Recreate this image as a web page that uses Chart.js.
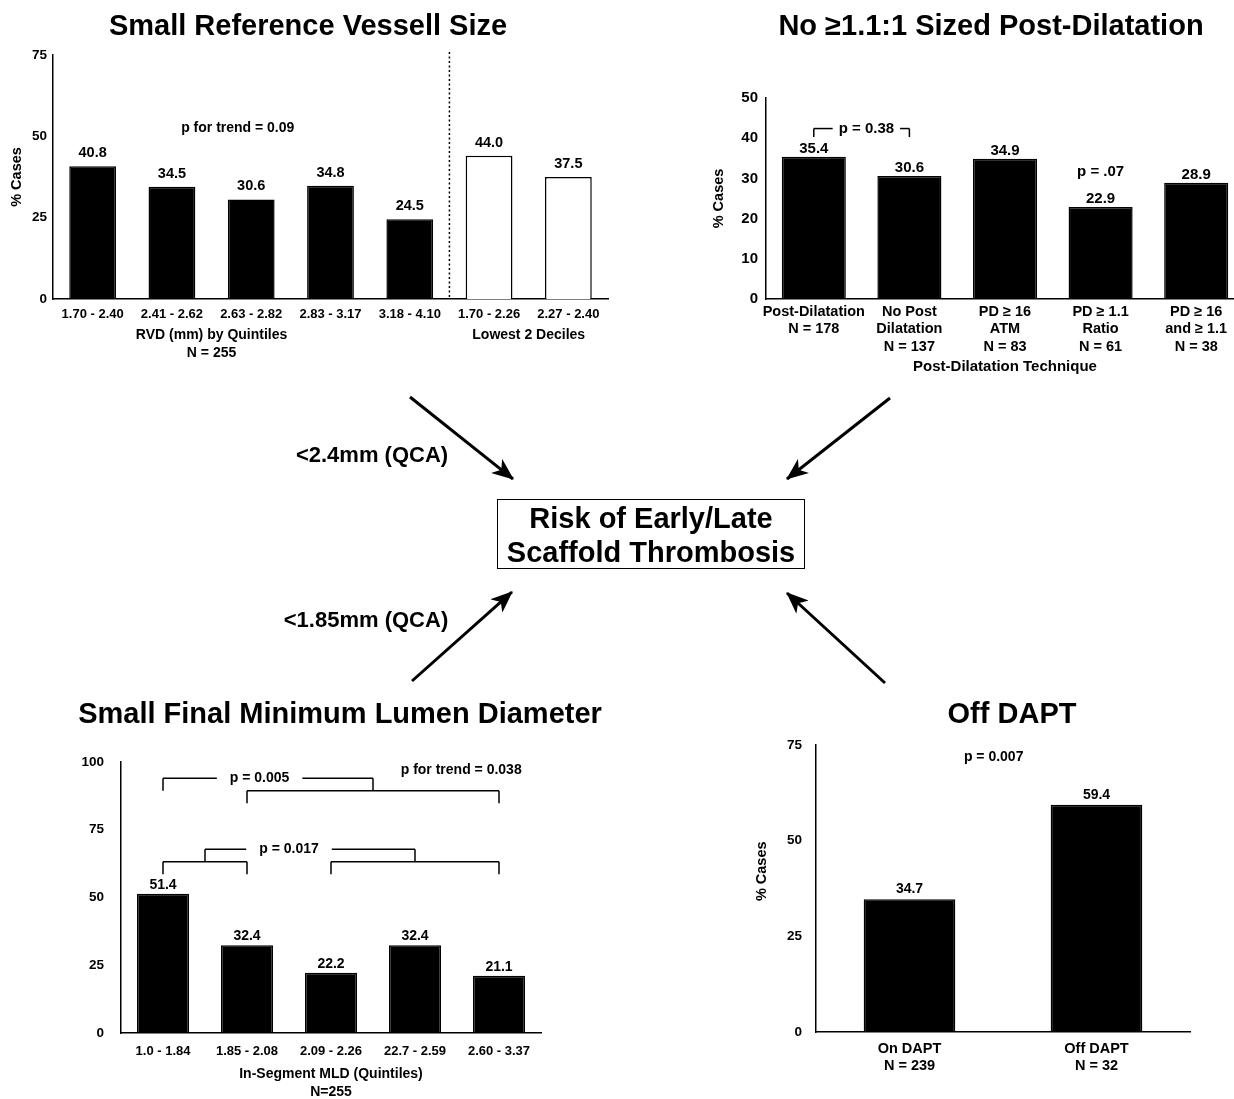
<!DOCTYPE html>
<html>
<head>
<meta charset="utf-8">
<script src="https://cdn.jsdelivr.net/npm/chart.js@4.4.1/dist/chart.umd.min.js"></script>
<style>
html, body { margin: 0; padding: 0; background: #fff; overflow: hidden; }
#page { position: relative; width: 1234px; height: 1099px; overflow: hidden; background: #fff;
        font-family: "Liberation Sans", Arial, sans-serif; font-weight: bold; color: #000; }
canvas { position: absolute; left: 0; top: 0; }
.t { position: absolute; white-space: nowrap; transform: translate(-50%, -50%); line-height: 1; }
.title { font-size: 29px; }
.arrowlbl { font-size: 22px; }
#box { position: absolute; left: 497px; top: 499px; width: 308px; height: 70px; box-sizing: border-box; border: 1.5px solid #000; }
</style>
</head>
<body>
<div id="page">
  <canvas id="c1" width="1234" height="1099"></canvas>
  <canvas id="c2" width="1260" height="1099"></canvas>
  <canvas id="c3" width="1234" height="1099"></canvas>
  <canvas id="c4" width="1234" height="1099"></canvas>

  <div class="t title" style="left:308px;top:25px">Small Reference Vessell Size</div>
  <div class="t title" style="left:991px;top:25px">No ≥1.1:1 Sized Post-Dilatation</div>
  <div class="t title" style="left:340px;top:713px">Small Final Minimum Lumen Diameter</div>
  <div class="t title" style="left:1012px;top:713px">Off DAPT</div>

  <svg width="1234" height="1099" style="position:absolute;left:0;top:0">
    <defs>
      <marker id="ah" viewBox="0 0 22 18" refX="21" refY="9" markerWidth="22" markerHeight="18"
              markerUnits="userSpaceOnUse" orient="auto">
        <path d="M0,0 L22,9 L0,18 L6,9 z" fill="#000"/>
      </marker>
    </defs>
    <line x1="410" y1="397" x2="513" y2="479" stroke="#000" stroke-width="3" marker-end="url(#ah)"/>
    <line x1="890" y1="398" x2="787" y2="479" stroke="#000" stroke-width="3" marker-end="url(#ah)"/>
    <line x1="412" y1="681" x2="512" y2="592" stroke="#000" stroke-width="3" marker-end="url(#ah)"/>
    <line x1="885" y1="683" x2="787" y2="593" stroke="#000" stroke-width="3" marker-end="url(#ah)"/>
  </svg>

  <div class="t arrowlbl" style="left:372px;top:455px">&lt;2.4mm (QCA)</div>
  <div class="t arrowlbl" style="left:366px;top:620px">&lt;1.85mm (QCA)</div>

  <div id="box"></div>
  <div class="t title" style="left:651px;top:518px">Risk of Early/Late</div>
  <div class="t title" style="left:651px;top:552px">Scaffold Thrombosis</div>
</div>

<script>
// panel 1: RVD quintiles + lowest deciles
const rvdLabels = ['1.70 - 2.40', '2.41 - 2.62', '2.63 - 2.82', '2.83 - 3.17', '3.18 - 4.10', '1.70 - 2.26', '2.27 - 2.40'];
const rvdValues = [40.8, 34.5, 30.6, 34.8, 24.5, 44.0, 37.5];
const rvdTicks = [0, 25, 50, 75];

// panel 2: post-dilatation technique
const pdLabels = [
    ['Post-Dilatation', 'N = 178'],
    ['No Post', 'Dilatation', 'N = 137'],
    ['PD ≥ 16', 'ATM', 'N = 83'],
    ['PD ≥ 1.1', 'Ratio', 'N = 61'],
    ['PD ≥ 16', 'and ≥ 1.1', 'N = 38']
];
const pdValues = [35.4, 30.6, 34.9, 22.9, 28.9];
const pdTicks = [0, 10, 20, 30, 40, 50];

// panel 3: in-segment MLD quintiles
const mldLabels = ['1.0 - 1.84', '1.85 - 2.08', '2.09 - 2.26', '22.7 - 2.59', '2.60 - 3.37'];
const mldValues = [51.4, 32.4, 22.2, 32.4, 21.1];
const mldTicks = [0, 25, 50, 75, 100];

// panel 4: DAPT
const daptLabels = [['On DAPT', 'N = 239'], ['Off DAPT', 'N = 32']];
const daptValues = [34.7, 59.4];
const daptTicks = [0, 25, 50, 75];

Chart.defaults.font.family = '"Liberation Sans", Arial, sans-serif';
Chart.defaults.font.weight = 'bold';
Chart.defaults.color = '#000';

const FONT = s => 'bold ' + s + 'px "Liberation Sans", Arial, sans-serif';
const X_H = 60;

function line(ctx, x1, y1, x2, y2) {
    ctx.beginPath();
    ctx.moveTo(x1, y1);
    ctx.lineTo(x2, y2);
    ctx.stroke();
}

// horizontal bracket bar, broken around a label
function hbar(ctx, x1, x2, y, text, tx, pad) {
    if (!text) { line(ctx, x1, y, x2, y); return; }
    const w = ctx.measureText(text).width / 2 + pad;
    line(ctx, x1, y, tx - w, y);
    line(ctx, tx + w, y, x2, y);
    ctx.fillText(text, tx, y);
}

function makeChart(id, cfg) {
    const canvas = document.getElementById(id);
    const a = cfg.area;
    const yW = cfg.yW || 45;
    return new Chart(canvas, {
        type: 'bar',
        data: {
            labels: cfg.labels,
            datasets: [{
                data: cfg.values,
                backgroundColor: cfg.fill || '#000',
                borderColor: '#000',
                borderWidth: 1.5,
                barPercentage: cfg.barPct,
                categoryPercentage: 1
            }]
        },
        options: {
            responsive: false,
            animation: false,
            events: [],
            layout: {
                padding: {
                    left: a.l - yW,
                    right: canvas.width - a.r,
                    top: a.t,
                    bottom: canvas.height - a.b - X_H
                }
            },
            plugins: { legend: { display: false }, tooltip: { enabled: false } },
            scales: {
                x: {
                    grid: { display: false },
                    border: { color: '#000', width: 1.5 },
                    ticks: { color: '#000', font: { size: cfg.xFont, weight: 'bold' }, padding: cfg.xPad, maxRotation: 0, autoSkip: false },
                    afterFit: s => { s.height = X_H; }
                },
                y: {
                    min: 0,
                    max: cfg.ticks[cfg.ticks.length - 1],
                    grid: { display: false, drawTicks: false },
                    border: { color: '#000', width: 1.5 },
                    afterBuildTicks: s => { s.ticks = cfg.ticks.map(v => ({ value: v })); },
                    ticks: { color: '#000', font: { size: cfg.yFont, weight: 'bold' }, padding: cfg.yPad },
                    afterFit: s => { s.width = yW; }
                }
            }
        },
        plugins: [{
            id: 'notes',
            afterDatasetsDraw(chart) {
                const ctx = chart.ctx;
                const X = v => chart.scales.x.getPixelForValue(v);
                const Y = v => chart.scales.y.getPixelForValue(v);
                ctx.save();
                ctx.fillStyle = '#000';
                ctx.strokeStyle = '#000';
                ctx.lineWidth = 1.5;
                ctx.textAlign = 'center';
                ctx.textBaseline = 'middle';
                ctx.font = FONT(cfg.valFont);
                chart.getDatasetMeta(0).data.forEach((bar, i) => {
                    ctx.fillText(cfg.values[i].toFixed(1), bar.x, bar.y - cfg.valOff);
                });
                if (cfg.yTitle) {
                    ctx.save();
                    ctx.font = FONT(14.5);
                    ctx.translate(chart.chartArea.left - cfg.yTitle.dx, Y(cfg.yTitle.v));
                    ctx.rotate(-Math.PI / 2);
                    ctx.fillText('% Cases', 0, 0);
                    ctx.restore();
                }
                if (cfg.draw) cfg.draw(ctx, X, Y, chart.chartArea);
                ctx.restore();
            }
        }]
    });
}

makeChart('c1', {
    labels: rvdLabels, values: rvdValues, ticks: rvdTicks,
    fill: ['#000', '#000', '#000', '#000', '#000', '#fff', '#fff'],
    area: { l: 53, r: 608, t: 55, b: 299 },
    yW: 40, barPct: 0.59, xFont: 13, xPad: 0, yFont: 13.5, yPad: 6, valFont: 14.5, valOff: 13,
    yTitle: { dx: 36, v: 37.5 },
    draw(ctx, X, Y, ca) {
        ctx.save();
        ctx.setLineDash([2, 2.5]);
        line(ctx, X(4.5), ca.top - 3, X(4.5), ca.bottom);
        ctx.restore();
        ctx.font = FONT(14);
        ctx.fillText('p for trend = 0.09', X(1.83), Y(52.6));
        ctx.fillText('RVD (mm) by Quintiles', X(1.5), ca.bottom + 36);
        ctx.fillText('N = 255', X(1.5), ca.bottom + 54);
        ctx.fillText('Lowest 2 Deciles', X(5.5), ca.bottom + 36);
    }
});

makeChart('c2', {
    labels: pdLabels, values: pdValues, ticks: pdTicks,
    area: { l: 766, r: 1244, t: 98, b: 299 },
    barPct: 0.67, xFont: 14.5, xPad: -4, yFont: 15, yPad: 8, valFont: 15, valOff: 8,
    yTitle: { dx: 47, v: 25 },
    draw(ctx, X, Y, ca) {
        ctx.font = FONT(15);
        hbar(ctx, X(0), X(1), Y(42.4), 'p = 0.38', X(0.55), 6);
        line(ctx, X(0), Y(42.4), X(0), Y(40.3));
        line(ctx, X(1), Y(42.4), X(1), Y(40.3));
        ctx.fillText('p = .07', X(3), Y(31.6));
        ctx.fillText('Post-Dilatation Technique', X(2), ca.bottom + 68);
    }
});

makeChart('c3', {
    labels: mldLabels, values: mldValues, ticks: mldTicks,
    area: { l: 121, r: 541, t: 762, b: 1033 },
    yW: 55, barPct: 0.62, xFont: 13, xPad: 3, yFont: 13.5, yPad: 17, valFont: 14, valOff: 9,
    draw(ctx, X, Y, ca) {
        ctx.font = FONT(14);
        // p = 0.005 : first quintile vs quintiles 2-5
        hbar(ctx, X(0), X(2.5), Y(94), 'p = 0.005', X(1.15), 13);
        line(ctx, X(0), Y(94), X(0), Y(89.4));
        line(ctx, X(2.5), Y(94), X(2.5), Y(89.4));
        hbar(ctx, X(1), X(4), Y(89.4));
        line(ctx, X(1), Y(89.4), X(1), Y(84.8));
        line(ctx, X(4), Y(89.4), X(4), Y(84.8));
        // p = 0.017 : quintiles 1-2 vs 3-5
        hbar(ctx, X(0.5), X(3), Y(67.8), 'p = 0.017', X(1.5), 13);
        line(ctx, X(0.5), Y(67.8), X(0.5), Y(63.2));
        line(ctx, X(3), Y(67.8), X(3), Y(63.2));
        hbar(ctx, X(0), X(1), Y(63.2));
        line(ctx, X(0), Y(63.2), X(0), Y(58.6));
        line(ctx, X(1), Y(63.2), X(1), Y(58.6));
        hbar(ctx, X(2), X(4), Y(63.2));
        line(ctx, X(2), Y(63.2), X(2), Y(58.6));
        line(ctx, X(4), Y(63.2), X(4), Y(58.6));
        ctx.fillText('p for trend = 0.038', X(3.55), Y(97));
        ctx.fillText('In-Segment MLD (Quintiles)', X(2), ca.bottom + 41);
        ctx.fillText('N=255', X(2), ca.bottom + 59);
    }
});

makeChart('c4', {
    labels: daptLabels, values: daptValues, ticks: daptTicks,
    area: { l: 816, r: 1190, t: 745, b: 1032 },
    barPct: 0.49, xFont: 14.5, xPad: 0, yFont: 13.5, yPad: 14, valFont: 14, valOff: 10,
    yTitle: { dx: 54, v: 42 },
    draw(ctx, X, Y, ca) {
        ctx.font = FONT(14);
        ctx.fillText('p = 0.007', X(0.45), Y(71.9));
    }
});
</script>
</body>
</html>
